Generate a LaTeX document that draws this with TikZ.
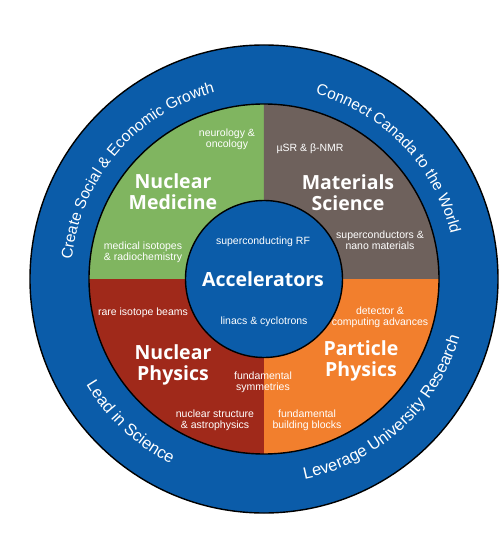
\documentclass[tikz,border=0pt]{standalone}
\usepackage{fontspec}
\setmainfont{Liberation Sans}
\newfontfamily\titlefont{Open Sans}
\usetikzlibrary{decorations.text}
\definecolor{ringblue}{RGB}{11,92,169}
\definecolor{medgreen}{RGB}{128,181,96}
\definecolor{matbrown}{RGB}{110,97,92}
\definecolor{nucred}{RGB}{160,41,26}
\definecolor{partorange}{RGB}{242,127,45}
\begin{document}
\begin{tikzpicture}[x=1pt,y=1pt,
  small/.style={text=white, font=\fontsize{10.5}{10.8}\selectfont, align=center, inner sep=0pt},
  title/.style={text=white, font=\titlefont\bfseries\fontsize{19.5}{21}\selectfont, align=center, inner sep=0pt},
  outline/.style={draw=black, line width=1.4pt},
  toptext/.style={decorate, decoration={text along path, text align=center, text color=white,
     text={|\fontsize{15.5}{15.5}\selectfont|#1}}},
  bottext/.style={decorate, decoration={text along path, text align=center, text color=white,
     text={|\fontsize{16.5}{16.5}\selectfont|#1}}}]
\useasboundingbox (-264,-262) rectangle (236,279);
% outer ring
\path[fill=ringblue, outline] (0,0) circle[radius=234];
% quadrants
\fill[medgreen] (0,0) -- (180:175) arc[start angle=180, end angle=90, radius=175] -- cycle;
\fill[matbrown] (0,0) -- (90:175) arc[start angle=90, end angle=0, radius=175] -- cycle;
\fill[partorange] (0,0) -- (0:175) arc[start angle=0, end angle=-90, radius=175] -- cycle;
\fill[nucred] (0,0) -- (270:175) arc[start angle=270, end angle=180, radius=175] -- cycle;
\draw[outline] (0,0) circle[radius=175];
% central circle
\path[fill=ringblue, outline] (0,0) circle[radius=78.5];
% outer texts
\path[toptext={Create Social {\&} Economic Growth}] (199.5:193) arc[start angle=199.5, end angle=79.5, radius=193];
\path[toptext={Connect Canada to the World}] (104:192) arc[start angle=104, end angle=-16, radius=192];
\path[bottext={Lead in Science}] (167:207) arc[start angle=167, end angle=287, radius=207];
\path[bottext={Leverage University Research}] (252.5:204) arc[start angle=252.5, end angle=372.5, radius=204];
% titles
\node[title] (nm) at (-91,87.3) {Nuclear\\Medicine};
\node[title] (ms) at (84,86.5) {Materials\\Science};
\node[title] (np) at (-91,-86) {Nuclear\\Physics};
\node[title] (pp) at (97,-82) {Particle\\Physics};
\node[title] (acc) at (-1,0) {Accelerators};
% small texts
\node[small] (neu) at (-37,140) {neurology \&\\oncology};
\node[small] (iso) at (-121,27) {medical isotopes\\\& radiochemistry};
\node[small] (musr) at (46,130) {µSR \& β-NMR};
\node[small] (sup) at (116,39) {superconductors \&\\nano materials};
\node[small] (srf) at (-1,37) {superconducting RF};
\node[small] (lin) at (0,-43) {linacs \& cyclotrons};
\node[small] (rare) at (-121,-33.5) {rare isotope beams};
\node[small] (det) at (116,-38.5) {detector \&\\computing advances};
\node[small] (fsym) at (-1,-103) {fundamental\\symmetries};
\node[small] (nstr) at (-49,-141.5) {nuclear structure\\\& astrophysics};
\node[small] (fbb) at (43,-141.5) {fundamental\\building blocks};
\end{tikzpicture}
\end{document}
